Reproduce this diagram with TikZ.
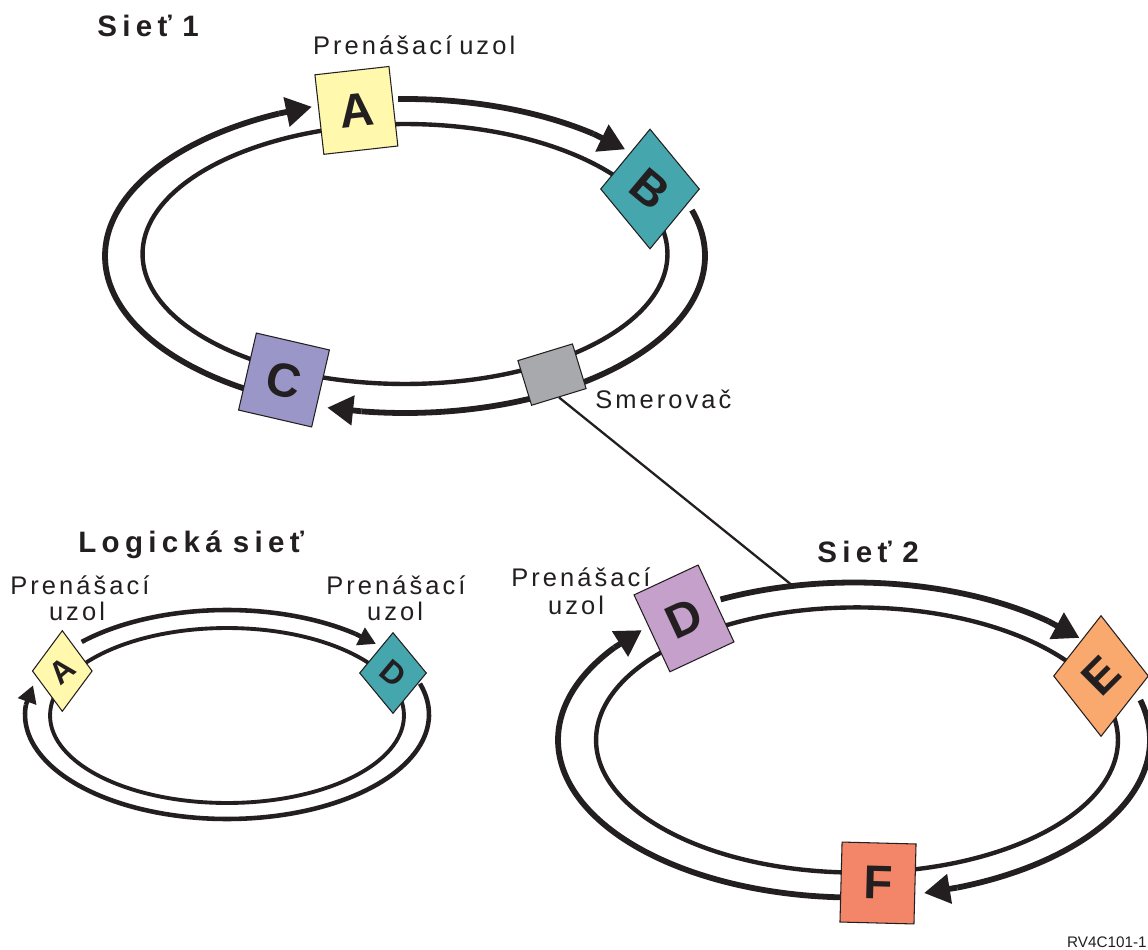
\documentclass[tikz,border=0pt]{standalone}
\usepackage{fontspec}
\setmainfont{Liberation Sans}
\newfontfamily\lblfont[LetterSpace=12]{Liberation Sans}
\newfontfamily\ttlfont[LetterSpace=18]{Liberation Sans}
\usetikzlibrary{shapes.geometric,arrows.meta}
\newlength\pxu \setlength\pxu{0.02cm}
\definecolor{ink}{HTML}{231F20}
\definecolor{cyel}{HTML}{FFF8AD}
\definecolor{cteal}{HTML}{45A6AE}
\definecolor{clav}{HTML}{9A96C8}
\definecolor{cgray}{HTML}{A7A9AC}
\definecolor{cpur}{HTML}{C5A0CA}
\definecolor{corg}{HTML}{F9A86E}
\definecolor{csal}{HTML}{F38668}
% #1 line style, #2 tip style, #3 cx, #4 cy, #5 rx, #6 ry, #7 start angle, #8 tip angle (lower), #9 chord length (px)
\newcommand\RingArrow[9]{%
  \pgfmathsetmacro\rbk{#8+(#9)*0.5729578/sqrt(((#5)/100*sin(#8))^2+((#6)/100*cos(#8))^2)}%
  \draw[#1] plot[domain=\rbk:#7, samples=90] ({#3+#5*cos(\x)},{#4-#6*sin(\x)});%
  \draw[#1,#2] ({#3+#5*cos(\rbk)},{#4-#6*sin(\rbk)}) -- ({#3+#5*cos(#8)},{#4-#6*sin(#8)});%
}
\begin{document}
\begin{tikzpicture}[x=0.02cm,y=-0.02cm,
  outerln/.style={line width=3.3pt, draw=ink, line join=round},
  innerln/.style={line width=2.5pt, draw=ink},
  lgouter/.style={line width=2.6pt, draw=ink, line join=round},
  lginner/.style={line width=2.2pt, draw=ink},
  bigtip/.style={-{Triangle[length=14.7pt,width=16.4pt]}},
  smalltip/.style={-{Triangle[length=9.8pt,width=10.6pt]}},
  box/.style={draw=ink, line width=0.6pt, inner sep=0pt, text=ink,
    font=\bfseries\fontsize{27}{27}\selectfont},
  dia/.style={diamond, draw=ink, line width=0.6pt, inner sep=0pt},
  bigletter/.style={inner sep=0pt, text=ink, font=\bfseries\fontsize{27}{27}\selectfont},
  smallletter/.style={inner sep=0pt, text=ink, font=\bfseries\fontsize{18}{18}\selectfont},
  lbl/.style={inner sep=0pt, text=ink, font=\lblfont\fontsize{14.5}{14.5}\selectfont},
  ttl/.style={inner sep=0pt, text=ink, font=\ttlfont\bfseries\fontsize{16.8}{17}\selectfont},
  conn/.style={draw=ink, line width=1.3pt}]
\useasboundingbox (0,0) rectangle (1148,949);
\fill[white] (0,0) rectangle (1148,949);

% ---------- Siet 1 ----------
\draw[innerln] (405,254) ellipse [x radius=5.25cm, y radius=2.6cm];
\RingArrow{outerln}{bigtip}{405}{256}{300}{157}{91.3}{42.8}{34}
\RingArrow{outerln}{bigtip}{405}{256}{300}{157}{17}{-105}{34}
\RingArrow{outerln}{bigtip}{405}{256}{300}{157}{248}{108.1}{34}

% ---------- Logicka siet ----------
\draw[lginner] (227,715.5) ellipse [x radius=3.54cm, y radius=1.75cm];
\RingArrow{lgouter}{smalltip}{227}{714.5}{202}{104.5}{136}{42.5}{22}
\RingArrow{lgouter}{smalltip}{227}{714.5}{202}{104.5}{17.2}{-196.2}{22}

% ---------- Siet 2 ----------
\draw[innerln] (857,740) ellipse [x radius=5.22cm, y radius=2.652cm];
\RingArrow{outerln}{bigtip}{854}{740}{296}{157.5}{116.8}{40.4}{34}
\RingArrow{outerln}{bigtip}{854}{740}{296}{157.5}{14.7}{-76.3}{34}
\RingArrow{outerln}{bigtip}{854}{740}{296}{157.5}{275}{135.8}{34}

% ---------- nodes ----------
\node[box, fill=cyel, minimum width=74.5*\pxu, minimum height=80*\pxu, rotate=6.4] (A1) at (356.4,110.4) {A};
\node[dia, fill=cteal, minimum width=99*\pxu, minimum height=120*\pxu,
  label={[bigletter, rotate=-40]center:B}] (B1) at (650,189) {};
\node[box, fill=clav, minimum width=75*\pxu, minimum height=79*\pxu, rotate=-13] (C1) at (284,380) {C};
\node[box, fill=cgray, minimum width=57*\pxu, minimum height=46.7*\pxu, rotate=17] (R) at (552,374.6) {};

\node[dia, fill=cyel, minimum width=60*\pxu, minimum height=81*\pxu,
  label={[smallletter, rotate=40]center:A}] (LA) at (62.3,671) {};
\node[dia, fill=cteal, minimum width=67*\pxu, minimum height=81*\pxu,
  label={[smallletter, rotate=-40]center:D}] (LD) at (393,673) {};

\node[box, fill=cpur, minimum width=70.7*\pxu, minimum height=84.8*\pxu, rotate=25] (D2) at (684,618.4) {D};
\node[dia, fill=corg, minimum width=95*\pxu, minimum height=121*\pxu,
  label={[bigletter, rotate=45]center:E}] (E2) at (1101,676) {};
\node[box, fill=csal, minimum width=74*\pxu, minimum height=80*\pxu, rotate=-1.5] (F2) at (878,883) {F};

% ---------- router link ----------
\coordinate (S2top) at (793,586);
\draw[conn] (R.south) -- (S2top);

% ---------- texts ----------
\node[ttl, anchor=base west] (t1) at (97,37) {Sieť\hspace{-0.1em} 1};
\node[lbl, anchor=base west] (t2) at (312.7,55) {Prenášací\hspace{-0.12em} uzol};
\node[lbl, anchor=base west] (t3) at (595,408.3) {Smerovač};
\node[ttl, anchor=base west] (t4) at (78,552) {Logická\hspace{-0.08em} sieť};
\node[lbl, anchor=base] (t5) at (80,594) {Prenášací};
\node[lbl, anchor=base] (t6) at (77,620.7) {uzol};
\node[lbl, anchor=base] (t7) at (396,594) {Prenášací};
\node[lbl, anchor=base] (t8) at (395,620.7) {uzol};
\node[ttl, anchor=base west] (t9) at (817,562) {Sieť\hspace{-0.1em} 2};
\node[lbl, anchor=base] (t10) at (581,586.7) {Prenášací};
\node[lbl, anchor=base] (t11) at (576,614) {uzol};
\node[inner sep=0pt, text=ink, anchor=base east, font=\fontsize{8.7}{9}\selectfont] (t12) at (1147,947) {RV4C101-1};
\end{tikzpicture}
\end{document}
